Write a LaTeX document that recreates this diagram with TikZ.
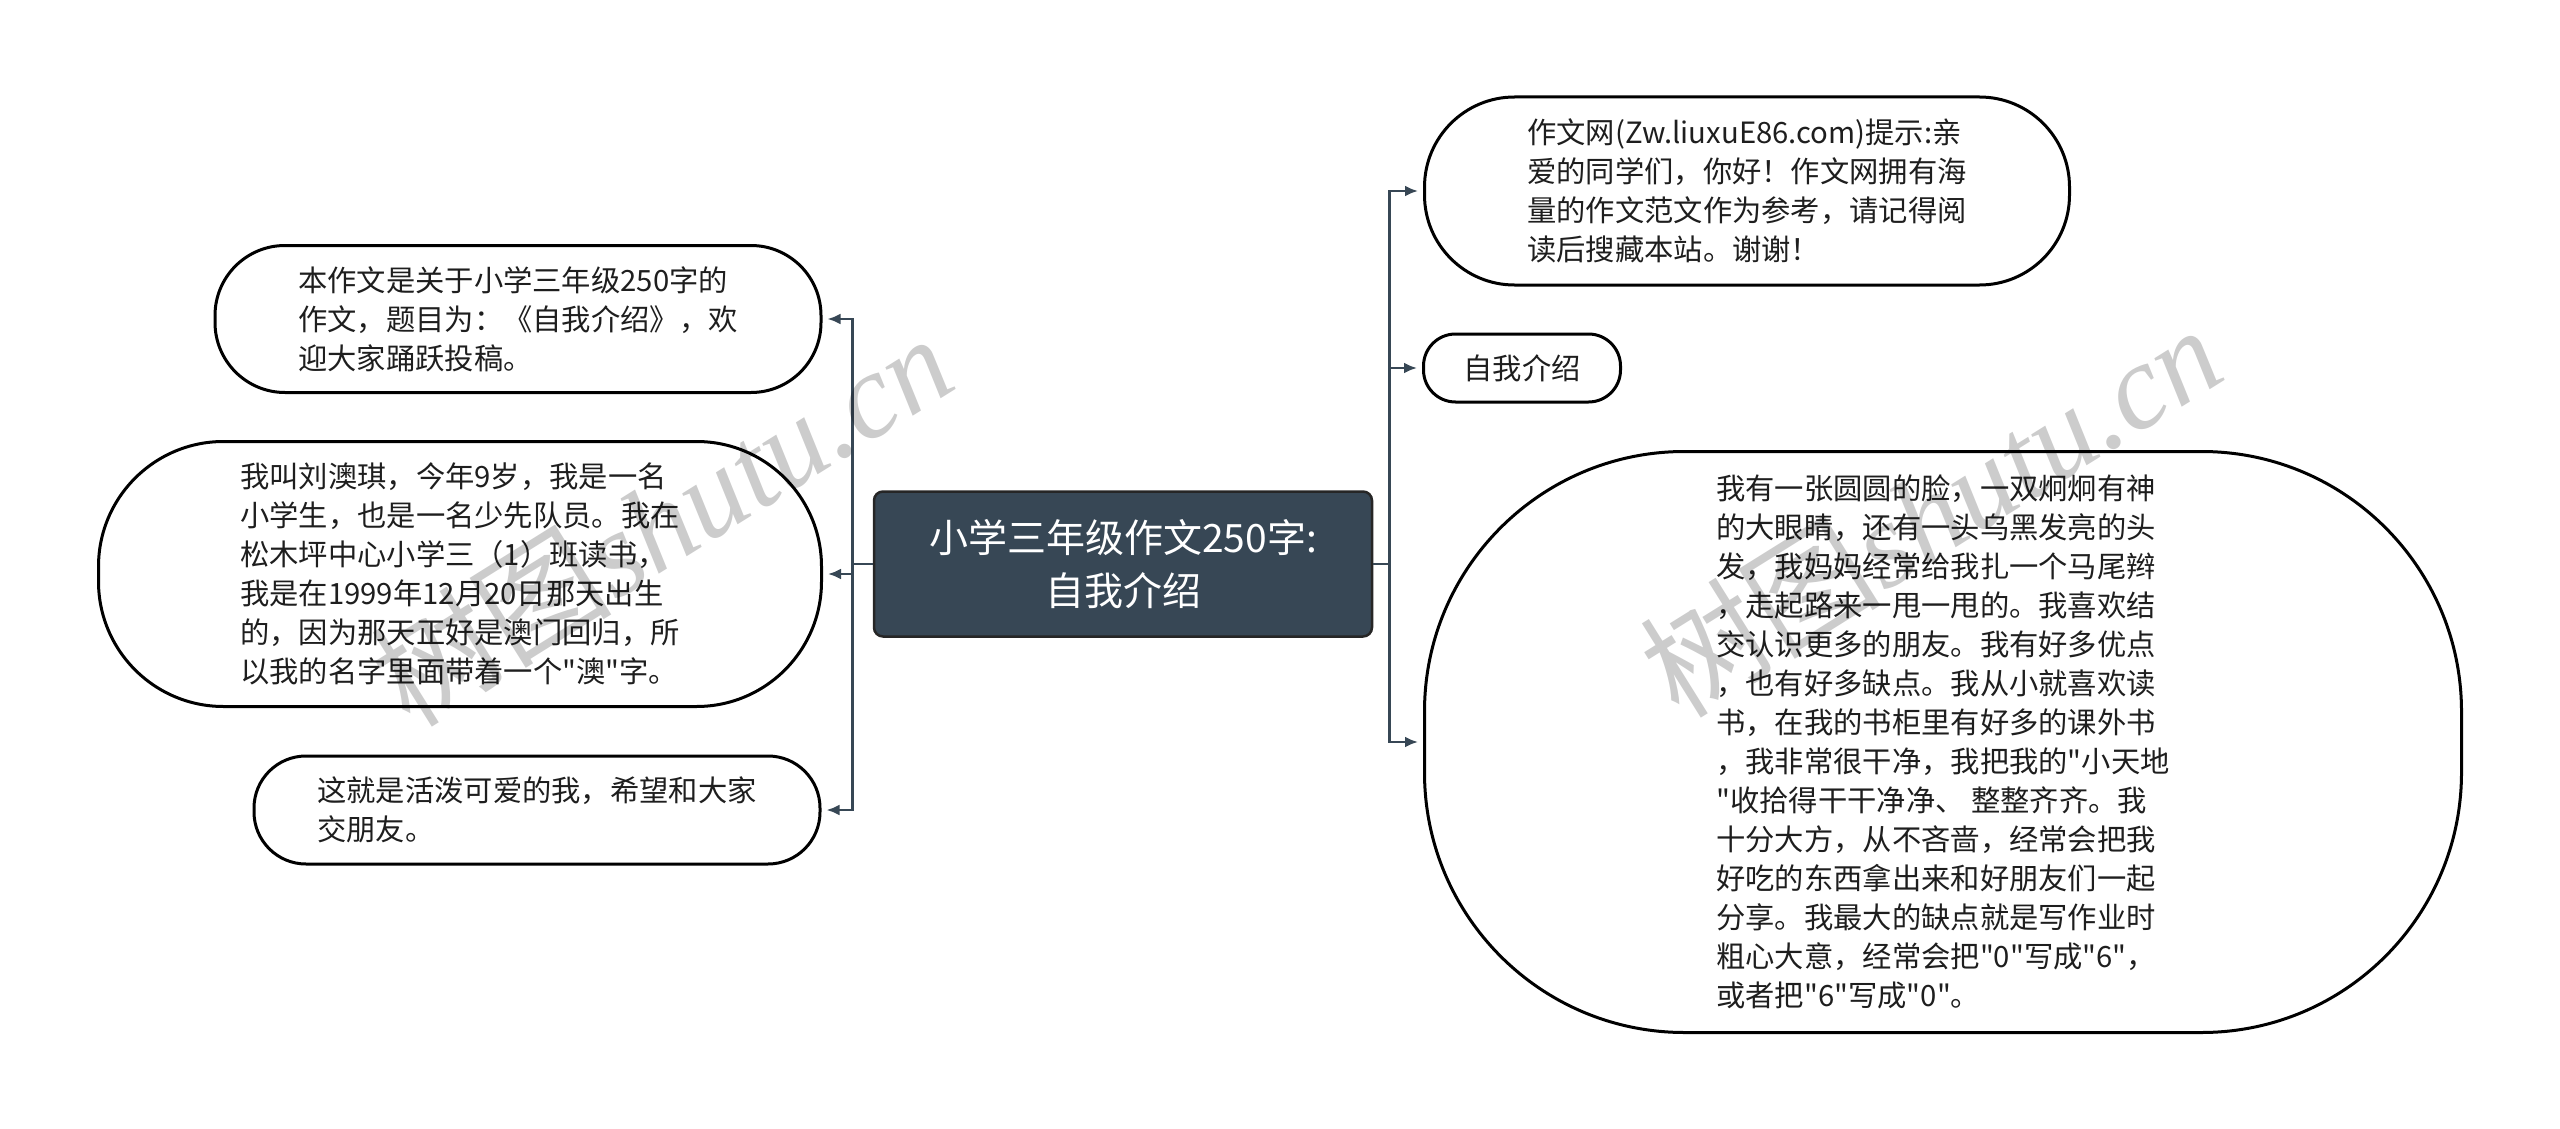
\documentclass[tikz,border=0pt]{standalone}
\usepackage{fontspec}
\setmainfont{Noto Sans CJK SC}[Ligatures=TeXOff]
\newfontfamily\wmlatin{Liberation Serif}
\usepackage{xcolor}
\usetikzlibrary{arrows.meta, positioning, calc}

\definecolor{slate}{HTML}{374755}
\definecolor{ink}{HTML}{1E1E1E}
% straight double quote, not the curly one
\newcommand{\dq}{\char"0022\relax}

\begin{document}
\begin{tikzpicture}[x=1pt, y=-1pt,
  bubble/.style={draw=black, line width=3pt, fill=white, text=ink, align=left,
    rounded corners=#1, inner sep=0pt,
    font=\fontsize{29.3}{39}\selectfont},
  root/.style={draw=black!85, line width=2.5pt, fill=slate, text=white, align=center,
    rounded corners=9pt, inner sep=0pt, minimum width=498pt, minimum height=145pt,
    font=\fontsize{39}{53}\selectfont},
  link/.style={draw=slate, line width=2.6pt},
  tip/.style={link, -{Latex[length=13pt,width=11pt]}, shorten >=5pt},
  wmark/.style={text=black, opacity=0.2, font=\fontsize{121}{121}\selectfont, inner sep=0pt}]

\useasboundingbox (0,0) rectangle (2560,1129);

% central topic
\node[root] (topic) at (1123,564) {小学三年级作文250字:\\自我介绍};

% left branch
\node[bubble=70pt, minimum width=606pt, minimum height=147pt] (la) at (518,319)
  {本作文是关于小学三年级250字的\\作文，题目为：《自我介绍》，欢\\迎大家踊跃投稿。};
\node[bubble=125pt, minimum width=723pt, minimum height=265pt] (lb) at (460,574)
  {我叫刘澳琪，今年9岁，我是一名\\小学生，也是一名少先队员。我在\\松木坪中心小学三（1）班读书，\\
   我是在1999年12月20日那天出生\\的，因为那天正好是澳门回归，所\\以我的名字里面带着一个\dq 澳\dq 字。};
\node[bubble=52pt, minimum width=566pt, minimum height=108pt] (lc) at (537,810)
  {这就是活泼可爱的我，希望和大家\\交朋友。};

% right branch
\node[bubble=90pt, minimum width=645pt, minimum height=188pt] (ra) at (1747,191)
  {作文网(Zw.liuxuE86.com)提示:亲\\爱的同学们，你好！作文网拥有海\\量的作文范文作为参考，请记得阅\\读后搜藏本站。谢谢！};
\node[bubble=32pt, minimum width=197pt, minimum height=68pt] (rb) at (1522,368) {自我介绍};
\node[bubble=260pt, minimum width=1037pt, minimum height=581pt] (rc) at (1943,742)
  {我有一张圆圆的脸，一双炯炯有神\\的大眼睛，还有一头乌黑发亮的头\\发，我妈妈经常给我扎一个马尾辫\\
   ，走起路来一甩一甩的。我喜欢结\\交认识更多的朋友。我有好多优点\\，也有好多缺点。我从小就喜欢读\\
   书，在我的书柜里有好多的课外书\\，我非常很干净，我把我的\dq 小天地\\\dq 收拾得干干净净、 整整齐齐。我\\
   十分大方，从不吝啬，经常会把我\\好吃的东西拿出来和好朋友们一起\\分享。我最大的缺点就是写作业时\\
   粗心大意，经常会把\dq 0\dq 写成\dq 6\dq ，\\或者把\dq 6\dq 写成\dq 0\dq 。};

% connectors
\draw[link] (topic.west) -- ++(-20,0) coordinate (lhub);
\draw[link] (topic.east) -- ++(16,0) coordinate (rhub);
\foreach \n in {la,lb,lc}
  \draw[tip] (lhub) |- (\n.east);
\foreach \n in {ra,rb,rc}
  \draw[tip] (rhub) |- (\n.west);

% watermark
\node[wmark, rotate=32] (wma) at (661,519) {树图{\wmlatin\itshape shutu.cn}};
\node[wmark, rotate=32] (wmb) at (1930,510) {树图{\wmlatin\itshape shutu.cn}};
\end{tikzpicture}
\end{document}
